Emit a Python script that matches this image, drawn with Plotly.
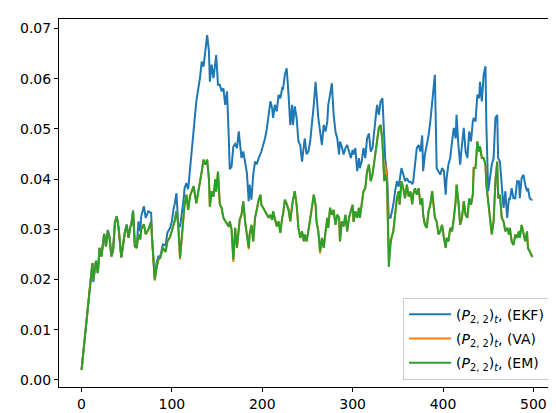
import plotly.graph_objects as go

steps = [
    0, 2, 4, 6, 8, 10, 12, 13, 15, 16, 18, 20, 22, 25, 27, 29, 31, 33, 35, 37,
    39, 41, 44, 46, 48, 50, 52, 54, 55, 57, 59, 61, 63, 65, 66, 69, 71, 74, 77, 78,
    81, 83, 85, 87, 89, 90, 93, 95, 98, 100, 102, 103, 105, 107, 109, 111, 113, 114, 116, 118,
    120, 124, 127, 131, 133, 135, 137, 139, 141, 142, 144, 146, 148, 149, 151, 153, 155, 157, 159, 161,
    163, 164, 166, 168, 170, 172, 174, 175, 177, 179, 181, 183, 185, 186, 188, 190, 192, 194, 196, 198,
    199, 201, 203, 205, 207, 209, 211, 212, 214, 216, 218, 220, 222, 223, 225, 227, 229, 231, 233, 234,
    236, 238, 240, 242, 244, 246, 247, 249, 251, 253, 255, 257, 259, 260, 262, 264, 266, 268, 270, 272,
    273, 275, 277, 279, 281, 283, 285, 286, 288, 290, 292, 294, 296, 298, 300, 301, 303, 305, 307, 308,
    310, 312, 314, 316, 318, 320, 322, 324, 325, 327, 329, 331, 333, 335, 336, 338, 340, 342, 343, 345,
    347, 349, 351, 352, 354, 356, 358, 360, 362, 364, 366, 367, 369, 371, 373, 375, 377, 378, 380, 382,
    384, 386, 388, 389, 391, 393, 395, 397, 399, 401, 403, 404, 406, 408, 410, 412, 414, 415, 417, 419,
    421, 423, 425, 427, 429, 431, 433, 434, 436, 438, 440, 441, 443, 445, 447, 448, 450, 452, 454, 456,
    458, 460, 461, 463, 465, 467, 469, 471, 473, 474, 476, 478, 480, 482, 484, 485, 487, 489, 491, 493,
    494, 496, 498, 499,
]

# values in units of 1e-3
ekf = [
    2.0, 5.5, 9.0, 12.5, 16.0, 19.5, 23.3, 19.5, 22.2, 23.7, 21.3, 26.3, 24.6, 29.1, 26.6, 29.9, 28.4, 24.6, 26.0, 31.5,
    32.6, 30.3, 24.4, 27.6, 29.5, 31.0, 28.3, 30.6, 30.8, 33.8, 26.8, 26.5, 31.6, 29.6, 32.6, 34.6, 32.3, 33.6, 33.3, 28.5,
    20.2, 23.3, 24.6, 24.5, 26.3, 27.0, 26.8, 29.3, 30.3, 31.6, 34.3, 34.9, 37.2, 31.0, 30.5, 33.0, 36.0, 38.2, 39.2, 38.0,
    42.2, 49.5, 55.5, 60.1, 63.4, 62.4, 65.4, 68.7, 65.4, 59.4, 62.8, 60.1, 63.1, 64.7, 58.8, 58.8, 57.5, 58.1, 54.8, 57.5,
    47.9, 42.0, 42.5, 46.5, 47.0, 46.2, 49.5, 47.5, 44.2, 45.5, 42.9, 41.2, 35.6, 38.9, 35.9, 40.9, 43.5, 43.0, 44.2, 44.9,
    45.5, 46.8, 48.1, 50.0, 52.8, 55.5, 54.1, 52.2, 54.8, 53.5, 56.8, 56.1, 58.1, 58.0, 60.8, 62.1, 57.0, 50.8, 54.8, 50.8,
    54.5, 52.2, 47.5, 46.8, 43.5, 46.8, 48.1, 45.0, 45.5, 47.5, 50.8, 54.8, 59.4, 56.8, 52.2, 49.5, 46.8, 50.8, 49.5, 51.5,
    54.8, 56.8, 59.1, 52.8, 49.5, 48.1, 44.9, 47.5, 46.5, 44.9, 46.2, 46.8, 45.5, 44.2, 45.8, 44.9, 46.2, 41.6, 44.2, 42.2,
    43.5, 46.2, 44.2, 48.1, 49.1, 45.5, 46.2, 50.3, 50.8, 54.8, 52.8, 55.5, 56.1, 45.5, 44.2, 41.0, 32.3, 32.3, 33.0, 34.9,
    37.6, 39.6, 38.5, 40.2, 42.2, 41.0, 39.6, 40.2, 39.5, 39.5, 39.0, 39.5, 43.5, 46.2, 46.8, 45.5, 48.7, 41.6, 44.9, 46.8,
    48.7, 51.5, 55.5, 56.8, 60.8, 42.2, 41.6, 40.9, 42.2, 41.6, 36.9, 40.2, 42.9, 44.2, 47.5, 50.2, 48.1, 52.8, 46.8, 42.9,
    46.8, 50.2, 45.5, 44.2, 49.5, 47.5, 51.5, 52.2, 51.5, 56.8, 56.1, 59.4, 55.5, 60.8, 62.5, 50.8, 37.6, 40.2, 42.9, 44.2,
    52.2, 52.8, 44.2, 43.5, 38.9, 34.3, 37.6, 32.3, 36.2, 35.9, 38.2, 36.2, 36.2, 39.6, 39.6, 36.2, 40.2, 40.9, 38.9, 37.6,
    38.2, 36.2, 35.9, 35.9,
]

va = [
    2.0, 5.5, 9.0, 12.5, 16.0, 19.5, 23.3, 20.0, 22.5, 23.7, 21.3, 26.3, 24.6, 29.1, 26.6, 29.6, 28.4, 24.6, 26.0, 31.5,
    32.6, 30.3, 24.4, 27.6, 29.5, 30.8, 28.3, 30.6, 30.8, 33.6, 26.6, 26.3, 29.0, 28.0, 30.0, 31.0, 29.0, 30.0, 31.6, 28.3,
    19.8, 22.3, 24.0, 24.3, 25.6, 26.3, 25.5, 27.6, 28.5, 29.6, 30.9, 31.6, 33.6, 31.0, 24.0, 29.0, 33.0, 34.9, 36.9, 33.9,
    36.6, 38.6, 35.2, 38.9, 41.5, 43.9, 42.9, 43.9, 40.0, 34.5, 37.6, 36.5, 40.0, 37.5, 41.5, 35.0, 34.3, 32.3, 31.6, 30.9,
    30.5, 31.6, 30.0, 23.5, 30.3, 26.3, 29.6, 31.9, 32.9, 35.6, 31.6, 28.3, 26.0, 29.0, 30.9, 27.6, 32.3, 34.0, 35.9, 36.9,
    34.9, 34.3, 33.6, 33.0, 32.3, 32.9, 31.9, 33.6, 32.3, 30.6, 31.6, 29.3, 32.3, 33.0, 35.9, 35.2, 34.0, 31.6, 34.9, 35.9,
    37.6, 34.9, 30.3, 28.3, 29.6, 27.6, 29.0, 27.6, 29.6, 32.3, 34.3, 36.9, 34.9, 31.6, 29.6, 25.2, 28.3, 26.3, 29.6, 32.3,
    30.3, 34.3, 32.9, 33.9, 30.9, 32.9, 32.3, 27.6, 31.6, 30.6, 32.9, 29.6, 32.3, 33.6, 34.9, 31.5, 33.6, 32.3, 34.3, 32.3,
    35.6, 37.6, 38.2, 41.6, 42.9, 39.6, 40.9, 43.5, 44.2, 47.5, 50.2, 50.8, 47.5, 39.6, 42.9, 39.6, 25.0, 28.0, 28.3, 29.6,
    33.6, 36.2, 37.6, 34.9, 39.6, 38.2, 36.2, 38.9, 36.5, 37.5, 35.0, 37.0, 38.2, 36.9, 38.2, 34.9, 36.2, 32.9, 30.9, 30.3,
    33.6, 34.9, 37.6, 36.2, 32.3, 31.6, 29.0, 29.6, 30.9, 28.3, 26.3, 28.3, 27.6, 30.3, 29.6, 32.3, 35.6, 38.9, 35.6, 30.9,
    32.3, 35.6, 32.9, 32.3, 36.2, 34.9, 36.9, 42.2, 42.2, 47.5, 45.5, 46.5, 44.2, 44.2, 42.9, 38.9, 34.9, 32.3, 29.0, 31.6,
    39.6, 43.5, 36.2, 36.9, 32.3, 31.6, 29.6, 30.3, 29.0, 30.3, 27.6, 26.9, 29.0, 28.3, 29.6, 28.3, 30.9, 29.0, 27.6, 29.6,
    26.3, 25.6, 25.0, 24.5,
]

em = [
    2.0, 5.5, 9.0, 12.5, 16.0, 19.5, 23.3, 20.0, 22.0, 23.7, 21.3, 26.3, 24.6, 29.1, 26.6, 29.6, 28.4, 24.6, 26.0, 31.5,
    32.6, 30.3, 24.4, 27.6, 29.5, 30.8, 28.3, 30.6, 30.8, 33.6, 26.6, 26.3, 29.0, 28.0, 30.0, 31.0, 29.0, 30.0, 31.6, 28.3,
    20.0, 22.3, 24.0, 24.3, 25.6, 26.3, 25.5, 27.6, 28.5, 29.6, 30.9, 31.6, 33.6, 31.0, 24.3, 29.0, 33.0, 34.9, 36.9, 33.9,
    36.6, 38.6, 35.2, 38.9, 41.5, 43.9, 42.9, 43.9, 40.0, 34.5, 37.6, 36.5, 40.0, 37.5, 41.5, 35.0, 34.3, 32.3, 31.6, 30.9,
    30.5, 31.6, 30.0, 24.0, 30.3, 26.3, 29.6, 31.9, 32.9, 35.6, 31.6, 28.3, 26.3, 29.0, 30.9, 27.6, 32.3, 34.0, 35.9, 36.9,
    34.9, 34.3, 33.6, 33.0, 32.3, 32.9, 31.9, 33.6, 32.3, 30.6, 31.6, 29.3, 32.3, 33.0, 35.9, 34.9, 34.0, 31.6, 34.9, 35.9,
    37.6, 34.9, 30.3, 28.3, 29.6, 27.6, 29.0, 27.6, 29.6, 32.3, 34.3, 36.9, 34.9, 31.6, 29.6, 25.6, 28.3, 26.3, 29.6, 32.3,
    30.3, 34.3, 32.9, 33.9, 30.9, 32.9, 32.3, 27.6, 31.6, 30.6, 32.9, 29.6, 32.3, 33.6, 34.9, 31.5, 33.6, 32.3, 34.3, 32.3,
    35.6, 37.6, 38.2, 41.6, 42.9, 39.6, 40.9, 43.5, 44.2, 47.5, 50.2, 50.8, 47.5, 39.6, 41.0, 39.6, 22.5, 27.0, 28.3, 29.6,
    33.6, 36.2, 37.6, 34.9, 39.6, 38.2, 36.2, 38.9, 36.5, 37.5, 35.0, 37.0, 38.2, 36.9, 38.2, 34.9, 36.2, 32.9, 30.9, 30.3,
    33.6, 34.9, 37.6, 36.2, 32.3, 31.6, 29.0, 29.6, 30.9, 28.3, 26.3, 28.3, 27.6, 30.3, 29.6, 32.3, 35.6, 38.9, 35.6, 30.9,
    32.3, 35.6, 32.9, 32.3, 36.2, 34.9, 36.9, 42.2, 42.2, 47.5, 45.5, 46.5, 44.2, 44.2, 42.9, 38.9, 34.9, 32.3, 29.0, 31.6,
    39.6, 43.5, 36.2, 36.9, 32.3, 31.6, 29.6, 30.3, 29.0, 30.3, 27.6, 26.9, 29.0, 28.3, 29.6, 28.3, 30.9, 29.0, 27.6, 29.6,
    26.3, 25.6, 25.0, 24.5,
]

series_names = [
    "(<i>P</i><sub>2, 2</sub>)<sub><i>t</i></sub>, (EKF)",
    "(<i>P</i><sub>2, 2</sub>)<sub><i>t</i></sub>, (VA)",
    "(<i>P</i><sub>2, 2</sub>)<sub><i>t</i></sub>, (EM)",
]
colors = ["#1f77b4", "#ff7f0e", "#2ca02c"]

x_ticks = [0, 100, 200, 300, 400, 500]
y_ticks = [0.00, 0.01, 0.02, 0.03, 0.04, 0.05, 0.06, 0.07]

fig = go.Figure()
for i, (name, vals, col) in enumerate(zip(series_names, [ekf, va, em], colors)):
    fig.add_trace(
        go.Scatter(
            x=steps,
            y=[v / 1000 for v in vals],
            mode="lines",
            name=name,
            legendgroup=f"g{i}",
            line=dict(color=col, width=2),
        )
    )

axis_style = dict(
    showgrid=False,
    zeroline=False,
    showline=True,
    linecolor="black",
    linewidth=1,
    mirror=True,
    ticks="outside",
    ticklen=4,
    tickwidth=1,
    tickcolor="black",
    tickfont=dict(family="DejaVu Sans", size=14, color="black"),
)

fig.update_xaxes(range=[-24.95, 523.95], tickvals=x_ticks, **axis_style)
fig.update_yaxes(
    range=[-0.0014, 0.0719],
    tickvals=y_ticks,
    ticktext=[f"{v:.2f}" for v in y_ticks],
    **axis_style,
)

fig.update_layout(
    width=556,
    height=413,
    margin=dict(l=51, r=9, t=11, b=34),
    plot_bgcolor="white",
    paper_bgcolor="white",
    font=dict(family="DejaVu Sans", size=14, color="black"),
    legend=dict(
        x=0.99,
        y=0.02,
        xanchor="right",
        yanchor="bottom",
        bgcolor="rgba(255,255,255,0.8)",
        bordercolor="#cccccc",
        borderwidth=1,
        font=dict(family="DejaVu Sans", size=14),
        itemwidth=42,
        tracegroupgap=3,
    ),
)

fig.write_html("out.html")
